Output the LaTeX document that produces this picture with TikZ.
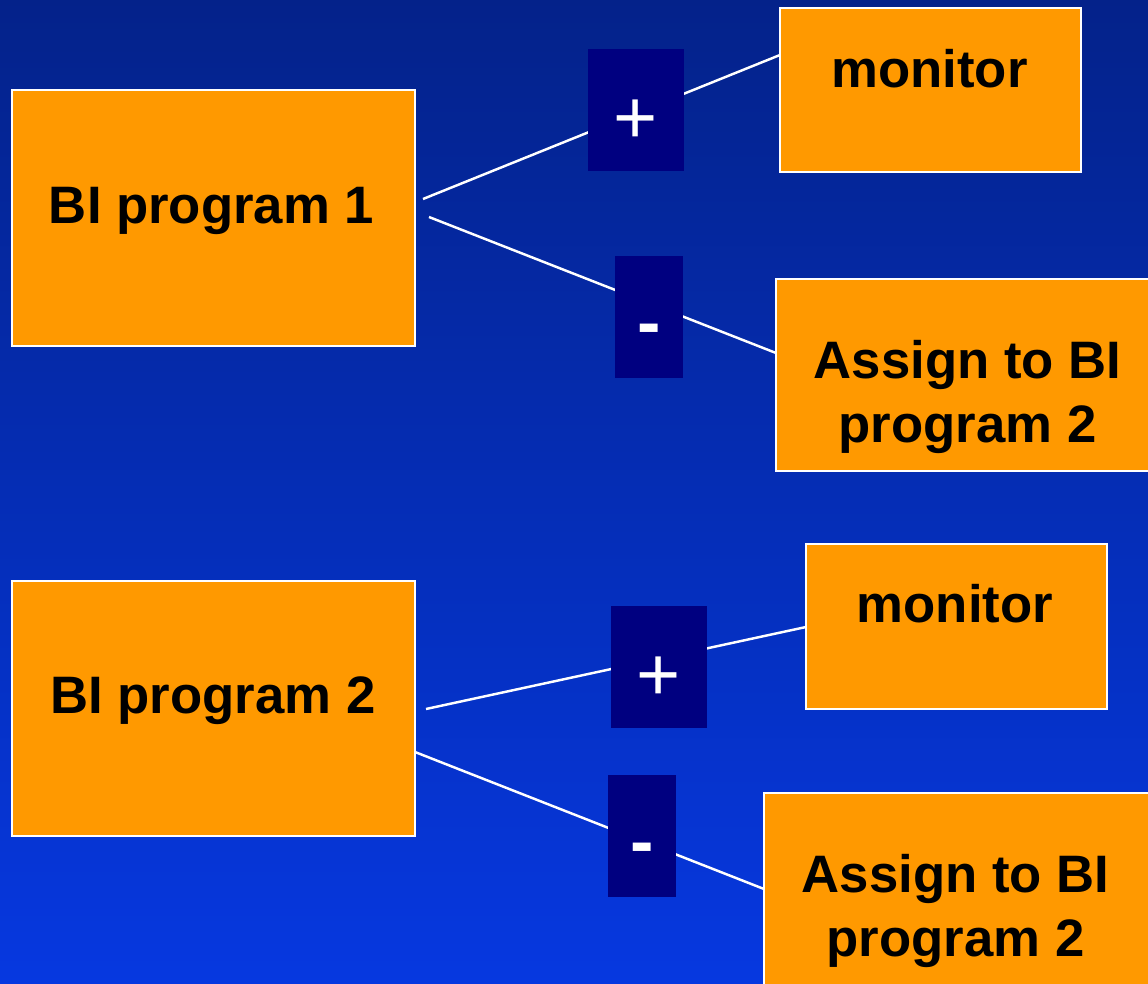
\documentclass[tikz,border=0pt]{standalone}
\usepackage{fontspec}
\setmainfont{Liberation Sans}
\definecolor{bgtop}{HTML}{04228A}
\definecolor{bgbot}{HTML}{0638E0}
\definecolor{boxorange}{HTML}{FF9900}
\definecolor{signnavy}{HTML}{000080}
\begin{document}
\begin{tikzpicture}[x=0.02cm,y=-0.02cm,
  box/.style={draw=white, line width=1.2pt, fill=boxorange, inner sep=0pt},
  sq/.style={fill=signnavy, inner sep=0pt, minimum height=2.44cm},
  lbl/.style={font=\fontsize{30}{36.2}\selectfont\bfseries, text=black, align=center, anchor=base, inner sep=0pt},
  plussign/.style={font=\fontsize{43}{43}\selectfont, text=white, inner sep=0pt},
  minussign/.style={font=\fontsize{40}{40}\selectfont\bfseries, text=white, inner sep=0pt},
  conn/.style={draw=white, line width=1.4pt}]
\useasboundingbox (0,0) rectangle (1148,983);
\clip (0,0) rectangle (1148,983);
\shade[top color=bgtop, bottom color=bgbot] (0,0) rectangle (1148,983);

% boxes
\node[box, minimum width=8.06cm, minimum height=5.12cm] (bi1) at (213.5,218) {};
\node[box, minimum width=6.02cm, minimum height=3.28cm] (mon1) at (930.5,90) {};
\node[box, minimum width=7.68cm, minimum height=3.84cm] (asg1) at (968,375) {};
\node[box, minimum width=8.06cm, minimum height=5.10cm] (bi2) at (213.5,708.5) {};
\node[box, minimum width=6.02cm, minimum height=3.30cm] (mon2) at (956.5,626.5) {};
\node[box, minimum width=7.92cm, minimum height=4.14cm] (asg2) at (962,896.5) {};

% labels
\node[lbl] (bi1t) at (211.5,223) {BI program 1};
\node[lbl] (mon1t) at (929.5,88) {monitor};
\node[lbl] (asg1t) at (967.5,442) {Assign to BI\\program 2};
\node[lbl] (bi2t) at (213,713) {BI program 2};
\node[lbl] (mon2t) at (955,622) {monitor};
\node[lbl] (asg2t) at (955.5,956) {Assign to BI\\program 2};

% connector end points
\coordinate (c1a) at (423,199);
\coordinate (c1b) at (780,55);
\coordinate (c2a) at (429,217);
\coordinate (c2b) at (776,353);
\coordinate (c3a) at (426,709);
\coordinate (c3b) at (806,627);
\coordinate (c4a) at (415,752);
\coordinate (c4b) at (764,889);
\draw[conn] (c1a) -- (c1b);
\draw[conn] (c2a) -- (c2b);
\draw[conn] (c3a) -- (c3b);
\draw[conn] (c4a) -- (c4b);

% sign squares
\node[sq, minimum width=1.92cm] (p1) at (636,110) {};
\node[sq, minimum width=1.36cm] (m1) at (649,317) {};
\node[sq, minimum width=1.92cm] (p2) at (659,667) {};
\node[sq, minimum width=1.36cm] (m2) at (642,836) {};
\node[plussign] (p1t) at (636,122) {+};
\node[minussign] (m1t) at (649,335) {-};
\node[plussign] (p2t) at (659,679) {+};
\node[minussign] (m2t) at (642,854) {-};
\end{tikzpicture}
\end{document}
